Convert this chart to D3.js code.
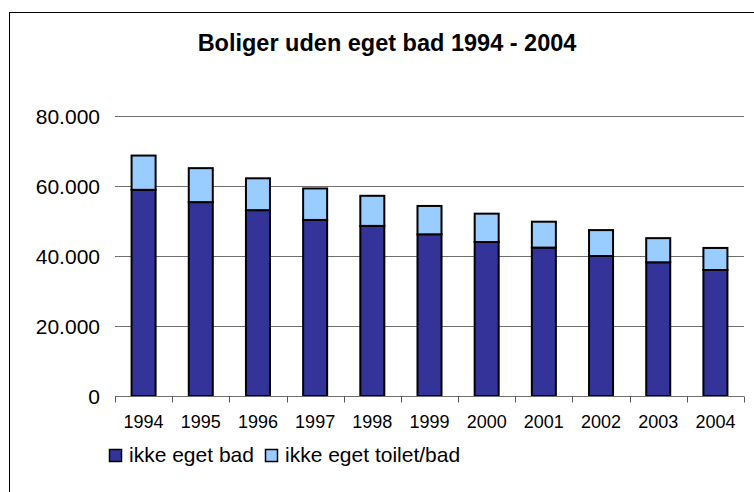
<!DOCTYPE html>
<html>
<head>
<meta charset="utf-8">
<script src="https://cdn.jsdelivr.net/npm/d3@7"></script>
<style>
  body { margin: 0; background: #fff; }
  svg { display: block; font-family: "Liberation Sans", Arial, sans-serif; }
</style>
</head>
<body>
<svg id="chart" width="754" height="492"></svg>
<script>
// årstal
var years = ["1994", "1995", "1996", "1997", "1998", "1999", "2000", "2001", "2002", "2003", "2004"];
// boliger uden eget bad
var ikkeBad = [58900, 55400, 53100, 50300, 48600, 46200, 44000, 42400, 40000, 38200, 36000];
// boliger uden eget toilet/bad (oven på)
var ikkeToiletBad = [9800, 9700, 9100, 9000, 8600, 8100, 8100, 7400, 7400, 6900, 6300];
var yTicks = [0, 20000, 40000, 60000, 80000];
var seriesNames = ["ikke eget bad", "ikke eget toilet/bad"];
var colors = ["#333399", "#99ccff"];

var svg = d3.select("#chart");

var dk = d3.formatLocale({ decimal: ",", thousands: ".", grouping: [3], currency: ["", " kr."] });
var fmt = dk.format(",.0f");

// ramme
svg.append("rect")
    .attr("x", 9.5).attr("y", 12.5)
    .attr("width", 800).attr("height", 600)
    .attr("fill", "none").attr("stroke", "#000").attr("stroke-width", 1);

svg.append("text")
    .attr("x", 387).attr("y", 51)
    .attr("text-anchor", "middle")
    .style("font-size", "23.5px").style("font-weight", "bold")
    .text("Boliger uden eget bad 1994 - 2004");

var x = d3.scaleBand().domain(years).range([115, 744]).padding(0);
var y = d3.scaleLinear().domain([0, 80000]).range([396, 116]);

// gitterlinjer
svg.append("g").selectAll("line")
    .data(yTicks.filter(d => d > 0))
    .join("line")
    .attr("x1", x.range()[0]).attr("x2", x.range()[1])
    .attr("y1", d => Math.round(y(d)) + 0.5).attr("y2", d => Math.round(y(d)) + 0.5)
    .attr("stroke", "#6e6e6e").attr("stroke-width", 1);

svg.append("g").selectAll("text")
    .data(yTicks)
    .join("text")
    .attr("x", 100).attr("y", d => y(d))
    .attr("dy", "0.36em")
    .attr("text-anchor", "end")
    .style("font-size", "21px")
    .text(d => fmt(d));

// stablede søjler
var stackData = years.map((yr, i) => ({ year: yr, bad: ikkeBad[i], toilet: ikkeToiletBad[i] }));
var stack = d3.stack().keys(["bad", "toilet"])(stackData);
var barW = x.bandwidth() * 0.42;

svg.append("g").selectAll("g")
    .data(stack)
    .join("g")
    .attr("fill", (d, i) => colors[i])
    .selectAll("rect")
    .data(d => d)
    .join("rect")
    .attr("x", d => x(d.data.year) + (x.bandwidth() - barW) / 2)
    .attr("y", d => y(d[1]))
    .attr("width", barW)
    .attr("height", d => y(d[0]) - y(d[1]))
    .attr("stroke", "#000").attr("stroke-width", 2);

// x-akse
var xAxis = svg.append("g").attr("transform", "translate(0,396.5)");
xAxis.append("line")
    .attr("x1", x.range()[0]).attr("x2", x.range()[1])
    .attr("stroke", "#6e6e6e");
xAxis.selectAll(".tick")
    .data(years.map(d => x(d)).concat([x.range()[1]]))
    .join("line")
    .attr("class", "tick")
    .attr("x1", d => Math.round(d) + 0.5).attr("x2", d => Math.round(d) + 0.5)
    .attr("y1", 0).attr("y2", 6)
    .attr("stroke", "#555");
xAxis.selectAll("text")
    .data(years)
    .join("text")
    .attr("x", d => x(d) + x.bandwidth() / 2)
    .attr("y", 31)
    .attr("text-anchor", "middle")
    .style("font-size", "18px")
    .text(d => d);

// legende
var legendX = [109, 265];
var legend = svg.append("g").selectAll("g")
    .data(seriesNames)
    .join("g")
    .attr("transform", (d, i) => "translate(" + legendX[i] + ",449)");
legend.append("rect")
    .attr("x", 0.5).attr("y", 0.5)
    .attr("width", 12).attr("height", 12)
    .attr("fill", (d, i) => colors[i])
    .attr("stroke", "#000").attr("stroke-width", 1.5);
legend.append("text")
    .attr("x", 20).attr("y", 13)
    .style("font-size", "21px")
    .text(d => d);
</script>
</body>
</html>
